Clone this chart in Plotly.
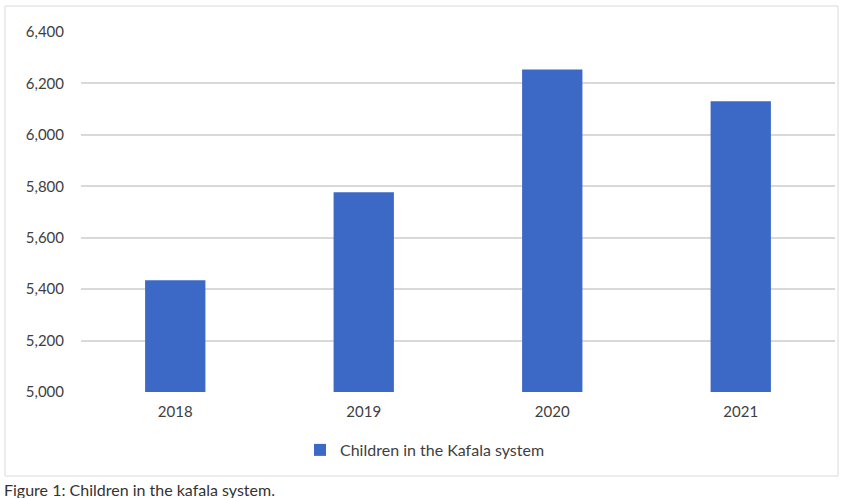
import plotly.graph_objects as go

years = ["2018", "2019", "2020", "2021"]
children = [5435, 5777, 6254, 6131]
series_name = "Children in the Kafala system"
y_ticks = [5000, 5200, 5400, 5600, 5800, 6000, 6200, 6400]
y_tick_labels = ["5,000", "5,200", "5,400", "5,600", "5,800", "6,000", "6,200", "6,400"]
caption = "Figure 1: Children in the kafala system."

W, H = 847, 498
L, R, T, B = 81, 12, 32, 106
pw, ph = W - L - R, H - T - B

def px_x(p):
    return (p - L) / pw

def px_y(p):
    return (H - B - p) / ph

fig = go.Figure()
fig.add_trace(go.Bar(
    x=years, y=children, name=series_name,
    marker=dict(color="#3D69C6", line=dict(width=0)),
    width=0.32, showlegend=True,
))

fig.update_layout(
    width=W, height=H,
    margin=dict(l=L, r=R, t=T, b=B),
    paper_bgcolor="white", plot_bgcolor="white",
    font=dict(family="Lato, Open Sans, sans-serif", size=15, color="#404040"),
    bargap=0.68,
    showlegend=True,
    legend=dict(orientation="h", x=px_x(300), xanchor="left", y=px_y(450), yanchor="middle",
                font=dict(size=16, color="#404040"), itemwidth=30),
    xaxis=dict(showgrid=False, showline=False, ticks="", ticklabelstandoff=9,
               tickfont=dict(size=15, color="#404040")),
    yaxis=dict(range=[5000, 6400], tickvals=y_ticks, ticktext=y_tick_labels,
               showgrid=True, gridcolor="#D9D9D9", gridwidth=1.5, zeroline=False,
               showline=False, ticks="", ticklabelstandoff=16,
               tickfont=dict(size=15, color="#404040")),
    shapes=[dict(type="rect", xref="paper", yref="paper",
                 x0=px_x(5), x1=px_x(838), y0=px_y(476), y1=px_y(6),
                 line=dict(color="#D9D9D9", width=1), fillcolor="rgba(0,0,0,0)", layer="below")],
    annotations=[dict(text=caption, xref="paper", yref="paper",
                      x=px_x(2), y=px_y(489), xanchor="left", yanchor="middle",
                      showarrow=False, font=dict(size=16, color="#333333"))],
)

fig.write_html("out.html")
